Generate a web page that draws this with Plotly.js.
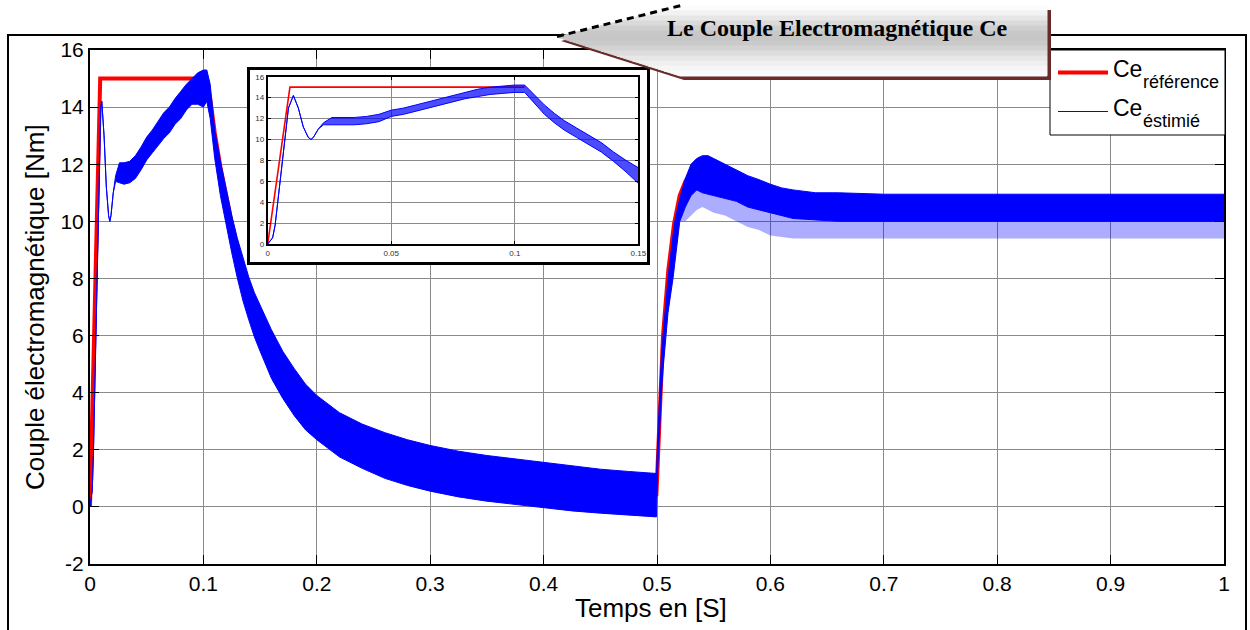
<!DOCTYPE html>
<html>
<head>
<meta charset="utf-8">
<script src="https://cdn.plot.ly/plotly-3.0.1.min.js"></script>
<style>html,body{margin:0;padding:0;background:#fff;}</style>
</head>
<body>
<div id="chart" style="width:1250px;height:630px;"></div>
<script>
// ---------------- DATA ----------------
// Reference torque Ce_référence (main plot)
const tRef  = [0, 0.009, 0.1, 0.102, 0.106, 0.11, 0.115, 0.12, 0.125, 0.13, 0.135, 0.14, 0.15, 0.16, 0.17, 0.18, 0.19, 0.2, 0.22, 0.24, 0.26, 0.28, 0.3, 0.35, 0.4, 0.45, 0.4995, 0.5005, 0.503, 0.5053, 0.51, 0.515, 0.52, 0.525, 0.53, 0.54, 0.55, 0.56, 0.58, 0.6, 0.65, 0.7, 1.0];
const ceRef = [0, 15, 15, 15, 14.3, 13.1, 11.9, 10.9, 9.95, 9.1, 8.3, 7.6, 6.5, 5.6, 4.85, 4.2, 3.7, 3.25, 2.6, 2.2, 1.85, 1.6, 1.4, 1.0, 0.75, 0.58, 0.45, 1.5, 4.5, 6.0, 8.3, 9.9, 10.9, 11.4, 11.7, 11.8, 11.6, 11.3, 10.9, 10.6, 10.4, 10.4, 10.4];

// Estimated torque Ce_éstimié (main plot): upper / lower envelope of the ripple band, and depth of the downward spikes
const tEst = [0, 0.002, 0.003, 0.0043, 0.0057, 0.007, 0.0084, 0.0095, 0.0104, 0.0124, 0.0144, 0.0164, 0.0175, 0.0185, 0.0205, 0.0226, 0.026, 0.03, 0.035, 0.04, 0.045, 0.05, 0.055, 0.06, 0.065, 0.07, 0.075, 0.08, 0.085, 0.09, 0.095, 0.1, 0.103, 0.106, 0.11, 0.115, 0.12, 0.125, 0.13, 0.135, 0.14, 0.145, 0.15, 0.16, 0.17, 0.18, 0.19, 0.2, 0.22, 0.24, 0.26, 0.28, 0.3, 0.325, 0.35, 0.375, 0.4, 0.425, 0.45, 0.475, 0.4995, 0.5005, 0.5024, 0.5039, 0.5053, 0.5077, 0.5097, 0.5141, 0.5157, 0.5201, 0.525, 0.53, 0.535, 0.54, 0.545, 0.55, 0.56, 0.57, 0.58, 0.59, 0.6, 0.61, 0.62, 0.64, 0.66, 0.7, 0.75, 0.8, 0.85, 0.9, 0.95, 1.0];
const ceEstHigh = [0, 0.6, 1.8, 4.4, 7.5, 10.1, 13.0, 14.0, 14.2, 13.0, 11.2, 10.2, 10.0, 10.2, 11.0, 11.6, 12.05, 12.05, 12.1, 12.3, 12.6, 12.95, 13.2, 13.5, 13.8, 14.0, 14.3, 14.55, 14.8, 15.0, 15.2, 15.3, 15.3, 14.8, 13.2, 12.1, 11.15, 10.2, 9.4, 8.7, 8.05, 7.5, 7.05, 6.2, 5.45, 4.85, 4.3, 3.9, 3.3, 2.9, 2.6, 2.35, 2.15, 1.95, 1.8, 1.68, 1.54, 1.42, 1.32, 1.24, 1.17, 2.2, 4.0, 5.3, 6.0, 7.1, 8.0, 9.5, 10.0, 10.8, 11.5, 12.0, 12.2, 12.3, 12.3, 12.2, 12.0, 11.8, 11.6, 11.46, 11.3, 11.17, 11.1, 11.0, 11.0, 10.95, 10.95, 10.95, 10.95, 10.95, 10.95, 10.95];
const ceEstLow  = [0, 0.6, 1.8, 4.4, 7.5, 10.1, 13.0, 14.0, 14.2, 13.0, 11.2, 10.2, 10.0, 10.2, 11.0, 11.4, 11.35, 11.3, 11.35, 11.5, 11.8, 12.15, 12.4, 12.65, 12.9, 13.1, 13.4, 13.6, 13.9, 14.1, 14.1, 14.0, 14.2, 13.6, 12.2, 10.9, 9.85, 8.9, 8.0, 7.2, 6.55, 5.95, 5.45, 4.5, 3.8, 3.2, 2.7, 2.35, 1.75, 1.35, 1.0, 0.75, 0.55, 0.35, 0.2, 0.08, -0.04, -0.14, -0.22, -0.28, -0.35, 1.2, 3.0, 4.0, 4.8, 6.0, 6.8, 8.0, 8.5, 10.0, 10.5, 10.9, 11.1, 11.0, 10.95, 10.9, 10.8, 10.7, 10.5, 10.4, 10.3, 10.2, 10.1, 10.05, 10.0, 10.0, 10.0, 10.0, 10.0, 10.0, 10.0, 10.0];
const ceEstSpike = [0, 0.6, 1.8, 4.4, 7.5, 10.1, 13.0, 14.0, 14.2, 13.0, 11.2, 10.2, 10.0, 10.2, 11.0, 11.4, 11.35, 11.3, 11.35, 11.5, 11.8, 12.15, 12.4, 12.65, 12.9, 13.1, 13.4, 13.6, 13.9, 14.1, 14.1, 14.0, 14.2, 13.6, 12.2, 10.9, 9.85, 8.9, 8.0, 7.2, 6.55, 5.95, 5.45, 4.5, 3.8, 3.2, 2.7, 2.35, 1.75, 1.35, 1.0, 0.75, 0.55, 0.35, 0.2, 0.08, -0.04, -0.14, -0.22, -0.28, -0.35, 1.2, 3.0, 4.0, 4.8, 6.0, 6.8, 8.0, 8.5, 10.0, 10.0, 10.2, 10.4, 10.5, 10.4, 10.3, 10.2, 10.0, 9.8, 9.7, 9.5, 9.45, 9.4, 9.4, 9.4, 9.4, 9.4, 9.4, 9.4, 9.4, 9.4, 9.4];

// Estimated / reference torque in the zoomed inset (0 – 0.15 s)
const tInset = [0, 0.002, 0.003, 0.0043, 0.0057, 0.007, 0.0084, 0.0104, 0.0124, 0.0144, 0.0164, 0.0175, 0.0185, 0.0205, 0.0226, 0.026, 0.03, 0.035, 0.04, 0.045, 0.05, 0.055, 0.06, 0.065, 0.07, 0.075, 0.08, 0.085, 0.09, 0.095, 0.1, 0.104, 0.108, 0.112, 0.116, 0.12, 0.125, 0.13, 0.135, 0.14, 0.145, 0.15];
const insetHigh = [0, 0.6, 1.8, 4.4, 7.5, 10.1, 13.0, 14.2, 13.0, 11.2, 10.2, 10.0, 10.2, 11.0, 11.6, 12.1, 12.1, 12.1, 12.2, 12.4, 12.8, 13.0, 13.3, 13.6, 13.9, 14.2, 14.5, 14.8, 15.0, 15.1, 15.2, 15.2, 14.2, 13.3, 12.5, 11.8, 11.1, 10.4, 9.7, 8.8, 8.0, 7.3];
const insetLow  = [0, 0.6, 1.8, 4.4, 7.5, 10.1, 13.0, 14.2, 13.0, 11.2, 10.2, 10.0, 10.2, 11.0, 11.4, 11.4, 11.4, 11.4, 11.5, 11.7, 12.2, 12.4, 12.7, 13.0, 13.3, 13.6, 13.9, 14.1, 14.3, 14.4, 14.5, 14.5, 13.4, 12.4, 11.6, 10.9, 10.2, 9.5, 8.8, 7.9, 6.9, 5.8];
const insetRefT  = [0, 0.009, 0.104];
const insetRefCe = [0, 15, 15];

// Tick labels
const xTickVals = [0, 0.1, 0.2, 0.3, 0.4, 0.5, 0.6, 0.7, 0.8, 0.9, 1];
const xTickText = ['0', '0.1', '0.2', '0.3', '0.4', '0.5', '0.6', '0.7', '0.8', '0.9', '1'];
const yTickVals = [-2, 0, 2, 4, 6, 8, 10, 12, 14, 16];
const yTickText = ['-2', '0', '2', '4', '6', '8', '10', '12', '14', '16'];
const insetXTickVals = [0, 0.05, 0.1, 0.15];
const insetXTickText = ['0', '0.05', '0.1', '0.15'];
const insetYTickVals = [0, 2, 4, 6, 8, 10, 12, 14, 16];
const insetYTickText = ['0', '2', '4', '6', '8', '10', '12', '14', '16'];

// Texts
const chartTitle = 'Le Couple Electromagnétique Ce';
const xTitle = 'Temps en [S]';
const yTitle = 'Couple électromagnétique [Nm]';
const legendMain = ['Ce', 'Ce'];
const legendSub = ['référence', 'éstimié'];

// ---------------- LAYOUT HELPERS ----------------
const PL = 90, PR = 1224, PT = 50, PB = 564;
const X = px => (px - PL) / (PR - PL);
const Y = py => (PB - py) / (PB - PT);
const poly = pts => 'M ' + pts.map(p => X(p[0]).toFixed(5) + ',' + Y(p[1]).toFixed(5)).join(' L ') + ' Z';

const BLUE = '#0000ff', RED = '#ff0000', GRID = '#8a8a8a';
const FONT = 'Liberation Sans, Arial, sans-serif';

const traces = [
  // main plot
  {type: 'scatter', mode: 'lines', x: tRef, y: ceRef, xaxis: 'x', yaxis: 'y',
   line: {color: RED, width: 4}, hoverinfo: 'skip'},
  {type: 'scatter', mode: 'lines', x: tEst, y: ceEstSpike, xaxis: 'x', yaxis: 'y',
   line: {color: 'rgba(0,0,255,0)', width: 0}, hoverinfo: 'skip'},
  {type: 'scatter', mode: 'lines', x: tEst, y: ceEstLow, xaxis: 'x', yaxis: 'y',
   fill: 'tonexty', fillcolor: 'rgba(0,0,255,0.32)', line: {color: BLUE, width: 1}, hoverinfo: 'skip'},
  {type: 'scatter', mode: 'lines', x: tEst, y: ceEstHigh, xaxis: 'x', yaxis: 'y',
   fill: 'tonexty', fillcolor: BLUE, line: {color: BLUE, width: 1}, hoverinfo: 'skip'},
  // inset frame subplot (empty)
  {type: 'scatter', mode: 'lines', x: [], y: [], xaxis: 'x2', yaxis: 'y2', hoverinfo: 'skip'},
  // inset
  {type: 'scatter', mode: 'lines', x: insetRefT, y: insetRefCe, xaxis: 'x3', yaxis: 'y3',
   line: {color: RED, width: 1.6}, hoverinfo: 'skip'},
  {type: 'scatter', mode: 'lines', x: tInset, y: insetLow, xaxis: 'x3', yaxis: 'y3',
   line: {color: BLUE, width: 1}, hoverinfo: 'skip'},
  {type: 'scatter', mode: 'lines', x: tInset, y: insetHigh, xaxis: 'x3', yaxis: 'y3',
   fill: 'tonexty', fillcolor: 'rgba(0,0,255,0.7)', line: {color: BLUE, width: 1}, hoverinfo: 'skip'}
];

const mainAxis = {
  showgrid: true, gridcolor: GRID, gridwidth: 1, zeroline: false,
  showline: true, linecolor: '#000', linewidth: 2, mirror: 'ticks',
  ticks: 'inside', ticklen: 9, tickwidth: 1, tickcolor: '#000',
  tickfont: {family: FONT, size: 21, color: '#000'}, fixedrange: true
};
const frameAxis = {
  showgrid: false, zeroline: false, showticklabels: false, ticks: '',
  showline: true, linecolor: '#000', linewidth: 3, mirror: 'all', range: [0, 1], fixedrange: true
};
const insetAxis = {
  showgrid: true, gridcolor: GRID, gridwidth: 1, zeroline: false,
  showline: true, linecolor: '#000', linewidth: 2, mirror: 'ticks',
  ticks: 'inside', ticklen: 3, tickwidth: 1, tickcolor: '#000',
  tickfont: {family: FONT, size: 8, color: '#333'}, fixedrange: true
};

// ---- title callout (pentagon pointing left) with vertical shading bands ----
const CALL = {tipX: 557, tipY: 37, cornerX: 680, top: 6, bottom: 76, right: 1047};
function leftEdge(y) {
  return y <= CALL.tipY
    ? CALL.tipX + (CALL.tipY - y) * (CALL.cornerX - CALL.tipX) / (CALL.tipY - CALL.top)
    : CALL.tipX + (y - CALL.tipY) * (CALL.cornerX - CALL.tipX) / (CALL.bottom - CALL.tipY);
}
const shadeColors = ['#fbfbfb', '#f2f2f2', '#e6e6e6', '#dadada', '#cfcfcf', '#c8c8c8', '#c6c6c6',
                     '#cacaca', '#d3d3d3', '#dddddd', '#e7e7e7', '#efefef', '#f5f5f5', '#f9f9f9'];
const calloutShapes = [];
// shadow
calloutShapes.push({type: 'path', xref: 'paper', yref: 'paper',
  path: poly([[CALL.tipX + 4, CALL.tipY + 4], [CALL.cornerX + 4, CALL.top + 4], [CALL.right + 4, CALL.top + 4],
              [CALL.right + 4, CALL.bottom + 4], [CALL.cornerX + 4, CALL.bottom + 4]]),
  fillcolor: '#6b2a2a', line: {width: 0}, layer: 'above'});
const band = (CALL.bottom - CALL.top) / shadeColors.length;
shadeColors.forEach((c, i) => {
  const y1 = CALL.top + i * band, y2 = y1 + band;
  const pts = [[leftEdge(y1), y1], [CALL.right, y1], [CALL.right, y2], [leftEdge(y2), y2]];
  if (y1 < CALL.tipY && y2 > CALL.tipY) pts.push([CALL.tipX, CALL.tipY]);
  calloutShapes.push({type: 'path', xref: 'paper', yref: 'paper', path: poly(pts),
    fillcolor: c, line: {color: c, width: 1}, layer: 'above'});
});
calloutShapes.push({type: 'line', xref: 'paper', yref: 'paper', x0: X(CALL.tipX), y0: Y(CALL.tipY - 0.5),
  x1: X(CALL.cornerX + 1), y1: Y(CALL.top - 0.5), line: {color: '#000', width: 3, dash: '7px,5px'}, layer: 'above'});

const shapes = [
  // outer frame
  {type: 'rect', xref: 'paper', yref: 'paper', x0: X(8), y0: Y(660), x1: X(1246), y1: Y(35),
   line: {color: '#000', width: 2}, fillcolor: 'rgba(0,0,0,0)', layer: 'above'},
  // legend box
  {type: 'rect', xref: 'paper', yref: 'paper', x0: X(1050), y0: Y(135), x1: X(1225), y1: Y(50),
   line: {color: '#000', width: 1}, fillcolor: '#fff', layer: 'above'},
  {type: 'line', xref: 'paper', yref: 'paper', x0: X(1058), y0: Y(72.5), x1: X(1108), y1: Y(72.5),
   line: {color: RED, width: 4}, layer: 'above'},
  {type: 'line', xref: 'paper', yref: 'paper', x0: X(1058), y0: Y(111.5), x1: X(1108), y1: Y(111.5),
   line: {color: BLUE, width: 1}, layer: 'above'}
].concat(calloutShapes);

const annotations = [
  {xref: 'paper', yref: 'paper', x: X(837), y: Y(28.5), xanchor: 'center', yanchor: 'middle', showarrow: false,
   text: '<b>' + chartTitle + '</b>', font: {family: 'Liberation Serif, Times New Roman, serif', size: 24, color: '#000'}},
  {xref: 'paper', yref: 'paper', x: X(651), y: Y(607.5), xanchor: 'center', yanchor: 'middle', showarrow: false,
   text: xTitle, font: {family: FONT, size: 26, color: '#000'}},
  {xref: 'paper', yref: 'paper', x: X(35), y: Y(307), xanchor: 'center', yanchor: 'middle', showarrow: false,
   textangle: -90, text: yTitle, font: {family: FONT, size: 26, color: '#000'}},
  {xref: 'paper', yref: 'paper', x: X(1111), y: Y(68.5), xanchor: 'left', yanchor: 'middle', showarrow: false,
   text: legendMain[0], font: {family: FONT, size: 23, color: '#000'}},
  {xref: 'paper', yref: 'paper', x: X(1141), y: Y(81.5), xanchor: 'left', yanchor: 'middle', showarrow: false,
   text: legendSub[0], font: {family: FONT, size: 18, color: '#000'}},
  {xref: 'paper', yref: 'paper', x: X(1111), y: Y(108), xanchor: 'left', yanchor: 'middle', showarrow: false,
   text: legendMain[1], font: {family: FONT, size: 23, color: '#000'}},
  {xref: 'paper', yref: 'paper', x: X(1141), y: Y(121), xanchor: 'left', yanchor: 'middle', showarrow: false,
   text: legendSub[1], font: {family: FONT, size: 18, color: '#000'}}
];

const layout = {
  width: 1250, height: 630,
  margin: {l: PL, r: 1250 - PR, t: PT, b: 630 - PB, pad: 0},
  paper_bgcolor: '#fff', plot_bgcolor: '#fff',
  showlegend: false,
  font: {family: FONT, color: '#000'},
  xaxis: Object.assign({}, mainAxis, {domain: [0, 1], anchor: 'y', range: [0, 1], tickvals: xTickVals, ticktext: xTickText}),
  yaxis: Object.assign({}, mainAxis, {domain: [0, 1], anchor: 'x', range: [-2, 16], tickvals: yTickVals, ticktext: yTickText}),
  xaxis2: Object.assign({}, frameAxis, {domain: [X(250), X(647)], anchor: 'y2'}),
  yaxis2: Object.assign({}, frameAxis, {domain: [Y(262), Y(70)], anchor: 'x2'}),
  xaxis3: Object.assign({}, insetAxis, {domain: [X(267.7), X(638.3)], anchor: 'y3', range: [0, 0.15], tickvals: insetXTickVals, ticktext: insetXTickText}),
  yaxis3: Object.assign({}, insetAxis, {domain: [Y(244), Y(76.7)], anchor: 'x3', range: [0, 16], tickvals: insetYTickVals, ticktext: insetYTickText}),
  shapes: shapes,
  annotations: annotations
};

Plotly.newPlot('chart', traces, layout, {displayModeBar: false, staticPlot: true});
</script>
</body>
</html>
